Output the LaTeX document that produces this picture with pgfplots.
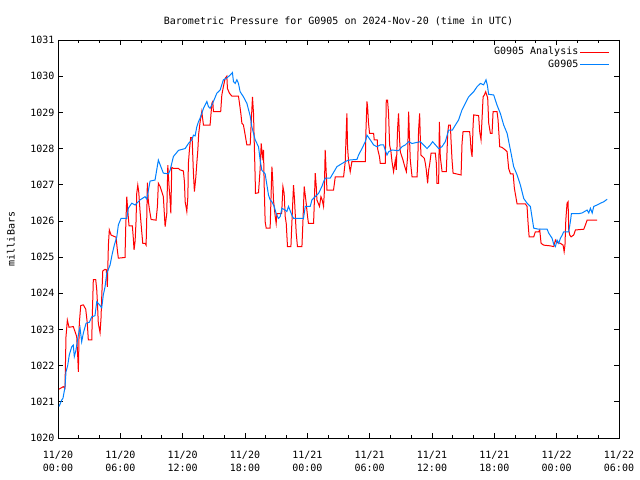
\documentclass[border=0pt]{standalone}
\usepackage{pgfplots}
\pgfplotsset{compat=1.18}
\usepackage{fontspec}
\setmainfont{DejaVu Sans Mono}
\definecolor{gred}{RGB}{255,0,0}
\definecolor{gblue}{RGB}{0,128,255}
\begin{document}
\fontsize{10bp}{12bp}\selectfont
\begin{tikzpicture}
\useasboundingbox (-58bp,-42bp) rectangle (582bp,438bp);
\begin{axis}[
  scale only axis, width=561bp, height=398bp,
  xmin=0, xmax=54, ymin=1020, ymax=1031,
  xtick={0,6,...,54},
  xticklabels={{11/20\\00:00},{11/20\\06:00},{11/20\\12:00},{11/20\\18:00},{11/21\\00:00},{11/21\\06:00},{11/21\\12:00},{11/21\\18:00},{11/22\\00:00},{11/22\\06:00}},
  xticklabel style={align=center, font=\fontsize{10bp}{12.5bp}\selectfont, yshift=-10bp},
  minor x tick num=2,
  ytick={1020,1021,...,1031},
  yticklabel style={font=\fontsize{10bp}{12bp}\selectfont},
  /pgf/number format/.cd, 1000 sep={}, assume math mode=true,
  /pgfplots/.cd,
  major tick length=5bp, minor tick length=3bp,
  tick style={black, line width=0.8bp},
  axis line style={black, line width=0.8bp},
  title={Barometric Pressure for G0905 on 2024-Nov-20 (time in UTC)},
  title style={at={(axis description cs:0.5,1)}, anchor=base, yshift=10bp, font=\fontsize{10bp}{12bp}\selectfont},
  ylabel={milliBars},
  ylabel style={at={(axis description cs:-0.084,0.5)}, anchor=center, font=\fontsize{10bp}{12bp}\selectfont},
  legend plot pos=right,
  legend cell align=right,
  legend style={at={(axis description cs:0.984,0.986)}, anchor=north east, draw=none, fill=none, inner sep=0pt, row sep=0bp, font=\fontsize{10bp}{12bp}\selectfont, nodes={inner sep=1.5bp, text height=7.5bp, text depth=2bp}},
  legend image code/.code={\draw[#1] (0bp,0bp) -- (29bp,0bp);},
]
\addplot[gred, line width=1bp] coordinates {
(0.10,1021.35)(0.51,1021.42)(0.67,1021.37)(0.77,1022.80)(0.90,1023.26)(1.06,1023.06)(1.47,1023.08)(1.64,1022.94)(1.80,1022.80)(1.90,1022.25)(1.96,1021.83)(2.05,1023.17)(2.19,1023.66)(2.44,1023.68)(2.67,1023.56)(2.82,1023.17)(2.92,1022.71)(3.25,1022.71)(3.30,1023.35)(3.40,1024.38)(3.63,1024.38)(3.73,1024.09)(3.79,1023.77)(3.88,1023.17)(4.05,1022.91)(4.14,1023.31)(4.21,1023.90)(4.31,1024.62)(4.53,1024.66)(4.65,1024.65)(4.75,1024.18)(4.85,1025.33)(4.94,1025.75)(5.11,1025.61)(5.33,1025.58)(5.59,1025.55)(5.71,1025.20)(5.81,1024.97)(6.45,1024.99)(6.52,1025.82)(6.62,1026.67)(6.71,1026.30)(6.84,1025.86)(7.16,1025.86)(7.25,1025.52)(7.32,1025.20)(7.42,1025.43)(7.51,1025.98)(7.58,1026.76)(7.68,1026.99)(7.77,1026.81)(7.90,1026.26)(8.06,1025.70)(8.16,1025.38)(8.38,1025.38)(8.48,1025.33)(8.55,1026.16)(8.60,1027.06)(8.70,1026.53)(8.80,1026.32)(8.96,1026.04)(9.44,1026.02)(9.57,1026.40)(9.66,1027.04)(9.83,1026.95)(9.99,1026.81)(10.14,1026.67)(10.31,1025.84)(10.47,1026.21)(10.57,1027.54)(10.69,1026.95)(10.79,1026.58)(10.86,1026.21)(10.95,1027.48)(11.11,1027.45)(11.59,1027.45)(11.75,1027.41)(12.07,1027.38)(12.17,1027.08)(12.24,1026.53)(12.40,1026.26)(12.50,1026.67)(12.55,1027.59)(12.65,1027.96)(12.77,1028.30)(12.91,1028.30)(13.03,1027.36)(13.13,1026.81)(13.27,1027.22)(13.36,1027.59)(13.46,1027.96)(13.54,1028.40)(13.68,1028.74)(13.84,1029.02)(14.00,1028.65)(14.64,1028.65)(14.81,1029.25)(14.90,1029.30)(14.96,1029.02)(15.66,1029.02)(15.77,1029.48)(15.92,1029.71)(16.09,1029.94)(16.25,1030.00)(16.31,1029.66)(16.50,1029.53)(16.73,1029.45)(17.37,1029.45)(17.47,1029.25)(17.60,1028.97)(17.70,1028.70)(17.85,1028.65)(18.02,1028.37)(18.18,1028.10)(18.50,1028.10)(18.55,1028.42)(18.72,1029.43)(18.82,1028.97)(18.88,1028.28)(18.98,1027.18)(19.01,1026.76)(19.30,1026.78)(19.46,1027.45)(19.56,1028.14)(19.68,1027.77)(19.78,1027.96)(19.85,1026.95)(19.94,1025.98)(20.04,1025.80)(20.42,1025.80)(20.59,1027.50)(20.68,1027.08)(20.74,1026.58)(20.91,1026.12)(21.00,1025.93)(21.07,1026.20)(21.53,1026.20)(21.65,1026.95)(21.77,1026.76)(21.87,1026.12)(21.97,1025.93)(22.09,1025.29)(22.42,1025.29)(22.51,1025.93)(22.67,1026.99)(22.76,1026.62)(22.93,1025.66)(23.05,1025.29)(23.48,1025.29)(23.57,1025.93)(23.70,1026.95)(23.89,1026.49)(24.02,1026.12)(24.11,1025.93)(24.60,1025.93)(24.66,1026.40)(24.76,1027.32)(24.86,1026.95)(24.92,1026.58)(25.17,1026.40)(25.31,1026.67)(25.43,1026.58)(25.56,1026.40)(25.63,1026.76)(25.72,1027.96)(25.82,1027.32)(25.89,1026.85)(26.52,1026.85)(26.69,1027.22)(27.49,1027.22)(27.65,1027.64)(27.75,1028.51)(27.81,1028.97)(27.87,1028.05)(27.97,1027.64)(28.13,1027.36)(28.29,1027.64)(29.58,1027.64)(29.64,1028.47)(29.74,1029.30)(29.80,1029.16)(29.89,1028.70)(29.99,1028.42)(30.38,1028.42)(30.44,1028.24)(30.73,1028.24)(30.76,1028.00)(30.95,1027.77)(31.02,1027.59)(31.50,1027.59)(31.60,1029.34)(31.72,1029.34)(31.82,1028.97)(31.92,1028.10)(32.05,1027.91)(32.15,1027.64)(32.30,1027.36)(32.47,1027.68)(32.56,1027.41)(32.69,1028.56)(32.78,1028.97)(32.88,1028.24)(32.95,1027.91)(33.21,1027.68)(33.33,1027.55)(33.53,1027.36)(33.65,1027.77)(33.75,1029.02)(33.84,1028.24)(33.91,1027.68)(34.08,1027.22)(34.56,1027.22)(34.62,1027.59)(34.71,1028.51)(34.81,1028.97)(34.88,1028.24)(34.94,1027.82)(35.26,1027.73)(35.36,1027.59)(35.45,1027.41)(35.58,1027.04)(35.68,1027.41)(35.77,1027.55)(35.91,1027.87)(36.32,1027.87)(36.42,1027.59)(36.48,1027.04)(36.64,1027.04)(36.71,1028.74)(36.80,1027.77)(36.97,1027.36)(37.38,1027.36)(37.51,1028.42)(37.60,1028.65)(37.77,1028.65)(37.83,1028.24)(37.93,1027.68)(38.03,1027.32)(38.80,1027.27)(38.89,1028.14)(38.99,1028.47)(39.62,1028.47)(39.69,1028.28)(39.76,1027.96)(39.86,1027.77)(39.95,1028.60)(40.01,1028.93)(40.49,1028.91)(40.59,1028.47)(40.72,1028.24)(40.82,1028.84)(40.92,1029.43)(41.04,1029.48)(41.17,1029.57)(41.36,1029.40)(41.46,1028.70)(41.62,1028.42)(41.78,1028.42)(41.88,1029.02)(42.26,1029.02)(42.36,1028.79)(42.52,1028.05)(42.75,1028.03)(43.06,1027.96)(43.23,1027.91)(43.38,1027.45)(43.55,1027.30)(43.81,1027.30)(43.93,1026.90)(44.10,1026.62)(44.19,1026.47)(44.99,1026.47)(45.15,1026.40)(45.25,1025.93)(45.35,1025.56)(45.79,1025.56)(45.95,1025.70)(46.27,1025.70)(46.37,1025.75)(46.50,1025.38)(46.75,1025.33)(47.40,1025.31)(47.72,1025.29)(47.88,1025.47)(48.04,1025.40)(48.36,1025.38)(48.62,1025.33)(48.72,1025.15)(48.80,1025.33)(48.88,1026.02)(49.00,1026.49)(49.10,1026.53)(49.16,1025.75)(49.26,1025.61)(49.39,1025.56)(49.64,1025.61)(49.81,1025.75)(50.61,1025.77)(50.77,1025.89)(50.93,1026.02)(51.90,1026.02)
};
\addlegendentry{G0905 Analysis}
\addplot[gblue, line width=1bp] coordinates {
(0.10,1020.87)(0.36,1021.05)(0.48,1021.10)(0.67,1021.40)(0.77,1021.83)(0.93,1022.00)(1.09,1022.30)(1.32,1022.52)(1.47,1022.57)(1.57,1022.25)(1.73,1022.43)(1.90,1022.75)(2.05,1022.98)(2.12,1023.05)(2.28,1022.66)(2.44,1022.90)(2.70,1023.17)(3.02,1023.20)(3.25,1023.35)(3.56,1023.38)(3.73,1023.77)(3.88,1023.72)(4.21,1023.60)(4.36,1023.95)(4.53,1024.18)(4.69,1024.55)(5.01,1024.78)(5.23,1025.10)(5.42,1025.33)(5.66,1025.56)(5.81,1025.89)(6.07,1026.07)(6.62,1026.07)(6.77,1026.35)(7.10,1026.49)(7.42,1026.44)(7.90,1026.58)(8.38,1026.67)(8.55,1026.60)(8.86,1027.10)(9.34,1027.13)(9.66,1027.68)(10.14,1027.32)(10.63,1027.30)(10.79,1027.40)(11.11,1027.78)(11.60,1027.95)(12.24,1028.00)(12.56,1028.14)(12.88,1028.24)(13.04,1028.37)(13.20,1028.35)(13.36,1028.60)(13.52,1028.74)(13.68,1028.84)(13.84,1028.97)(14.00,1029.11)(14.33,1029.30)(14.48,1029.16)(14.64,1029.11)(14.96,1029.30)(15.29,1029.53)(15.61,1029.62)(15.92,1029.90)(16.25,1029.95)(16.57,1030.03)(16.79,1030.10)(16.89,1029.85)(17.05,1029.80)(17.22,1029.90)(17.37,1029.80)(17.53,1029.57)(17.85,1029.43)(18.18,1029.25)(18.50,1028.90)(18.66,1028.60)(18.98,1028.24)(19.30,1028.05)(19.46,1027.68)(19.62,1027.40)(19.94,1027.30)(20.11,1026.99)(20.26,1026.72)(20.42,1026.58)(20.59,1026.53)(20.81,1026.40)(21.00,1026.20)(21.22,1026.07)(21.39,1026.12)(21.55,1026.35)(21.87,1026.30)(22.03,1026.26)(22.19,1026.40)(22.51,1026.16)(22.67,1026.07)(23.63,1026.07)(23.80,1026.40)(24.28,1026.40)(24.44,1026.58)(24.76,1026.67)(25.08,1026.76)(25.40,1026.95)(25.56,1027.08)(25.72,1027.18)(26.20,1027.18)(26.85,1027.50)(27.65,1027.64)(27.97,1027.68)(28.78,1027.70)(28.93,1027.82)(29.26,1028.00)(29.58,1028.19)(29.74,1028.37)(30.06,1028.24)(30.38,1028.10)(30.70,1028.05)(31.02,1028.10)(31.34,1028.10)(31.50,1027.96)(31.67,1027.82)(31.82,1027.91)(32.15,1027.96)(32.78,1027.94)(33.11,1028.05)(33.43,1028.10)(33.75,1028.19)(34.08,1028.14)(34.87,1028.19)(35.19,1028.10)(35.52,1028.00)(35.84,1028.10)(36.06,1028.19)(36.64,1028.00)(36.96,1028.05)(37.28,1028.19)(37.60,1028.51)(37.96,1028.51)(38.25,1028.65)(38.56,1028.79)(38.89,1029.07)(39.21,1029.25)(39.53,1029.43)(40.01,1029.57)(40.34,1029.71)(40.66,1029.80)(40.97,1029.76)(41.20,1029.90)(41.33,1029.75)(41.45,1029.50)(41.94,1029.48)(42.26,1029.20)(42.58,1028.97)(42.90,1028.65)(43.23,1028.42)(43.55,1027.96)(43.86,1027.50)(44.19,1027.27)(44.51,1026.99)(44.83,1026.62)(45.15,1026.49)(45.47,1026.40)(45.79,1025.80)(46.27,1025.77)(47.08,1025.77)(47.24,1025.66)(47.56,1025.52)(47.72,1025.35)(47.88,1025.29)(48.04,1025.47)(48.20,1025.38)(48.36,1025.52)(48.52,1025.60)(48.68,1025.70)(49.16,1025.70)(49.32,1025.98)(49.42,1026.20)(49.64,1026.20)(50.12,1026.20)(50.45,1026.22)(50.93,1026.30)(51.09,1026.22)(51.25,1026.35)(51.42,1026.22)(51.57,1026.40)(51.89,1026.44)(52.22,1026.49)(52.54,1026.53)(52.86,1026.60)
};
\addlegendentry{G0905}
\end{axis}
\end{tikzpicture}
\end{document}
